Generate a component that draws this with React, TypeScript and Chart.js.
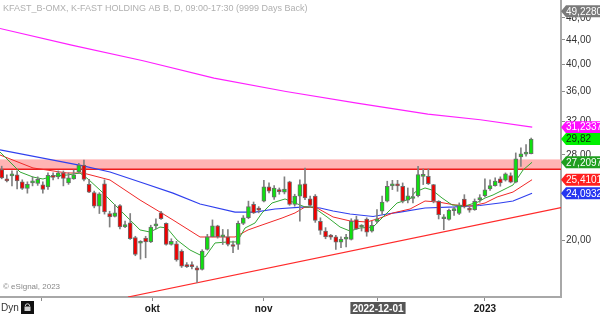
import React, { useEffect, useRef } from 'react';
import { Chart, registerables } from 'chart.js';

Chart.register(...registerables);

const FONT = '"Liberation Sans", Arial, sans-serif';

const TITLE = 'KFAST_B-OMX, K-FAST HOLDING AB B, D, 09:00-17:30 (9999 Days Back)';
const COPYRIGHT = '\u00A9 eSignal, 2023';

// daily candles, index 0 = first visible bar
const OPEN = [26.45, 25.5, 25.8, 25.9, 25.2, 24.55, 25.1, 25.05, 24.9, 24.7,
  25.8, 25.7, 26.1, 25.1, 25.5, 26.2, 26.9, 24.95, 24.15, 22.9,
  25.0, 22.25, 22.0, 22.95, 21.1, 21.45, 20.25, 19.8, 20.2, 19.9,
  21.2, 22.3, 21.4, 19.7, 19.75, 19.2, 18.2, 18.2, 17.98, 17.86,
  19.32, 20.3, 21.2, 20.3, 20.3, 19.6, 19.7, 21.4, 21.88, 23.07,
  22.6, 23.36, 24.7, 23.73, 24.3, 24.19, 25.2, 23.07, 23.82, 24.99,
  23.57, 23.82, 21.58, 20.77, 20.3, 20.3, 19.88, 20.12, 20.1, 21.72,
  21.1, 21.78, 20.77, 21.58, 22.46, 23.36, 24.8, 24.83, 24.76, 23.44,
  23.6, 23.86, 25.75, 25.75, 24.93, 23.35, 21.8, 21.73, 22.5, 22.25,
  23.56, 22.6, 22.59, 23.5, 23.86, 24.5, 24.83, 25.5, 25.37, 25.82,
  25.17, 27.8, 28.1, 28.16];
const HIGH = [26.8, 25.9, 26.3, 26.3, 25.4, 25.2, 25.7, 25.7, 25.2, 26.1,
  26.1, 26.3, 26.3, 26.1, 26.4, 27.1, 27.45, 25.45, 24.3, 24.15,
  25.4, 22.45, 23.05, 23.05, 21.6, 22.25, 20.35, 20.0, 20.35, 21.25,
  21.8, 22.45, 21.45, 20.15, 19.95, 19.3, 18.35, 18.4, 18.1, 19.3,
  20.5, 21.7, 21.25, 20.9, 20.9, 19.96, 21.6, 22.07, 23.36, 23.28,
  22.86, 25.35, 25.09, 24.83, 24.6, 25.7, 25.26, 24.0, 25.4, 26.6,
  23.82, 23.97, 21.88, 21.05, 20.5, 20.42, 20.3, 20.5, 21.8, 22.02,
  21.3, 21.88, 21.58, 22.6, 23.82, 25.26, 25.35, 25.35, 25.09, 24.6,
  24.6, 26.78, 26.5, 26.5, 24.95, 23.4, 22.16, 22.65, 22.83, 23.2,
  23.96, 22.83, 23.56, 23.96, 25.5, 25.4, 25.6, 25.7, 26.1, 26.1,
  28.23, 28.8, 29.17, 29.93];
const LOW = [25.5, 25.2, 24.8, 24.5, 24.45, 24.1, 24.8, 24.85, 24.1, 24.45,
  25.4, 25.5, 24.8, 24.95, 25.45, 26.1, 25.3, 24.15, 22.75, 22.25,
  22.2, 21.1, 21.95, 20.95, 21.05, 20.1, 18.85, 18.6, 18.7, 19.85,
  20.95, 21.75, 19.65, 19.65, 18.45, 18.0, 18.0, 17.9, 16.95, 17.82,
  19.27, 20.3, 20.2, 19.7, 19.6, 19.07, 19.32, 21.3, 21.8, 22.25,
  22.31, 23.28, 24.12, 23.51, 24.0, 24.03, 22.98, 22.9, 21.6, 23.5,
  22.77, 21.49, 20.5, 20.15, 20.1, 19.32, 19.45, 19.52, 20.05, 20.9,
  20.77, 20.35, 20.68, 21.44, 22.17, 23.28, 24.44, 24.28, 23.2, 23.2,
  23.2, 23.74, 24.93, 24.93, 23.2, 21.78, 20.88, 21.67, 22.08, 22.16,
  22.74, 22.36, 22.53, 23.26, 23.74, 24.37, 24.77, 24.77, 25.27, 25.1,
  25.1, 26.78, 27.88, 28.12];
const CLOSE = [25.6, 25.3, 25.82, 25.3, 24.55, 24.95, 25.12, 25.45, 24.45, 25.85,
  25.65, 26.1, 25.55, 25.6, 25.9, 26.9, 25.45, 24.2, 22.9, 24.05,
  22.4, 21.95, 22.3, 21.1, 21.3, 20.15, 18.95, 19.82, 19.9, 21.1,
  21.35, 21.8, 19.7, 19.95, 18.55, 18.1, 18.05, 18.05, 17.82, 19.2,
  20.3, 21.2, 20.3, 20.35, 19.7, 19.55, 21.4, 21.88, 22.86, 22.31,
  22.55, 24.7, 24.28, 24.6, 24.25, 24.5, 23.07, 23.82, 24.93, 23.66,
  22.98, 21.66, 20.82, 20.3, 20.28, 19.88, 20.1, 20.15, 21.58, 20.95,
  21.12, 20.68, 21.25, 21.8, 23.28, 24.76, 24.83, 24.8, 23.36, 23.86,
  23.65, 25.92, 25.78, 25.03, 23.35, 22.16, 21.85, 22.53, 22.55, 22.95,
  22.83, 22.55, 23.35, 23.55, 24.43, 24.83, 25.27, 25.1, 26.0, 25.17,
  27.58, 28.12, 28.16, 29.82];

// moving averages (bar index, price)
const MAGENTA_X = [-0.33, 13.6, 27.5, 41.3, 55.3, 69.1, 82.9, 93.1, 103.2];
const MAGENTA_Y = [46.02, 43.12, 40.55, 37.86, 35.93, 34.33, 32.88, 32.16, 31.23];
const BLUE_X = [-0.33, 15.82, 21.07, 27.49, 33.33, 38.58, 45.39, 49.28, 53.17, 59.01, 61.93,
  64.46, 67.76, 72.24, 74.96, 77.49, 82.35, 88.19, 93.03, 96.91, 99.47, 103.17];
const BLUE_Y = [28.56, 26.82, 26.19, 25.08, 24.1, 23.1, 22.38, 22.38, 22.65, 22.83, 22.74,
  22.47, 22.21, 21.99, 22.21, 22.38, 22.74, 22.83, 22.96, 23.19, 23.37, 24.09];
const RED_X = [-0.33, 6.09, 12.7, 15.82, 21.07, 26.91, 30.8, 33.33, 38.58, 41.5, 45.39, 47.92,
  50.64, 54.53, 57.06, 59.01, 61.34, 64.46, 67.76, 71.07, 73.6, 76.13, 79.44, 82.35, 84.88,
  88.19, 91.5, 94.03, 96.36, 99.47, 103.17];
const RED_Y = [28.0, 26.61, 26.09, 26.09, 25.38, 23.46, 22.38, 21.69, 20.29, 20.29, 20.29, 20.86,
  21.27, 21.86, 22.3, 22.83, 22.74, 21.95, 21.61, 21.52, 21.86, 22.3, 22.65, 23.37, 23.28,
  23.01, 22.92, 23.19, 23.74, 24.21, 25.41];
const GREEN_X = [-0.33, 3.56, 6.09, 8.03, 9.98, 12.7, 15.23, 16.79, 19.12, 21.65,
  24.38, 26.91, 28.85, 30.8, 32.16, 34.11, 36.63, 38.58, 39.55, 41.5,
  44.03, 45.78, 47.33, 49.28, 50.64, 52.59, 55.12, 57.06, 59.01, 60.56,
  63.29, 65.82, 67.76, 69.71, 72.24, 74.18, 76.91, 79.44, 80.41, 82.35,
  83.72, 85.66, 87.61, 90.14, 92.67, 94.03, 95.58, 98.31, 99.47, 101.42, 103.17];
const GREEN_Y = [28.33, 26.19, 25.68, 25.48, 25.78, 25.88, 26.09, 25.48, 24.4, 23.19,
  21.95, 20.86, 20.69, 21.1, 21.02, 20.05, 19.28, 18.91, 18.76, 19.82,
  19.9, 19.9, 21.02, 21.44, 22.3, 23.19, 23.56, 23.19, 22.83, 22.83,
  21.95, 21.1, 20.77, 21.02, 21.1, 21.95, 23.19, 23.56, 24.21, 24.6,
  24.4, 23.65, 23.01, 22.92, 23.28, 23.65, 23.93, 24.6, 24.89, 26.4, 27.21];

// support trend line and resistance band
const TREND_X = [24.57, 108.8];
const TREND_Y = [16.03, 22.78];
const BAND_TOP = 27.45;
const BAND_BOTTOM = 26.47;

// axes
const X_MIN = -0.33;
const X_MAX = 108.8;
const Y_MIN = 16.03;
const Y_MAX = 51.47;
const X_TICK_POS = [7.84, 29.3, 50.95, 73.2, 94];
const X_TICK_LABELS = ['', 'okt', 'nov', '2022-12-01', '2023'];
const Y_TICKS = [20, 28, 32, 36, 40, 44, 48];

// price tags on the right axis
const TAG_VALUES = [49.228, 31.2337, 29.82, 27.2097, 25.4101, 24.0932];
const TAG_TEXTS = ['49,2280', '31,2337', '29,82', '27,2097', '25,4101', '24,0932'];
const TAG_BG = ['#7a7a7a', '#ff10ff', '#00f000', '#1f9f1f', '#ff2020', '#2636f0'];
const TAG_FG = ['#ffffff', '#ffffff', '#0a250a', '#ffffff', '#ffffff', '#ffffff'];

const pts = (xs: number[], ys: number[]) => xs.map((x, i) => ({ x, y: ys[i] }));

const decorPlugin = {
  id: 'esignalDecor',
  afterDraw(chart: any) {
    const { ctx, chartArea } = chart;
    const ys = chart.scales.y;
    ctx.save();
    ctx.textAlign = 'left';
    ctx.textBaseline = 'middle';
    ctx.font = `9px ${FONT}`;
    ctx.fillStyle = '#b0b0b0';
    ctx.fillText(TITLE, 3, 9);

    ctx.font = `8px ${FONT}`;
    ctx.fillStyle = '#888888';
    ctx.fillText(COPYRIGHT, 3, 287);

    ctx.font = `10px ${FONT}`;
    ctx.fillStyle = '#333333';
    ctx.fillText('Dyn', 1, 308);
    ctx.fillStyle = '#111111';
    ctx.fillRect(21, 301, 13, 13);
    ctx.strokeStyle = '#d0d0d0';
    ctx.lineWidth = 1;
    ctx.beginPath();
    ctx.arc(27.5, 306, 2.2, Math.PI, 0);
    ctx.stroke();
    ctx.fillStyle = '#d0d0d0';
    ctx.fillRect(24.5, 306.5, 6, 4.5);

    const right = chartArea.right;
    ctx.font = `10px ${FONT}`;
    TAG_VALUES.forEach((v, i) => {
      const py = ys.getPixelForValue(v);
      ctx.fillStyle = TAG_BG[i];
      ctx.beginPath();
      ctx.moveTo(right, py);
      ctx.lineTo(right + 5, py - 6);
      ctx.lineTo(600, py - 6);
      ctx.lineTo(600, py + 6);
      ctx.lineTo(right + 5, py + 6);
      ctx.closePath();
      ctx.fill();
      ctx.fillStyle = TAG_FG[i];
      ctx.fillText(TAG_TEXTS[i], right + 5, py + 0.5);
    });
    ctx.restore();
  },
};

export default function App() {
  const ref = useRef<HTMLCanvasElement | null>(null);

  useEffect(() => {
    if (!ref.current) return;
    const idx = OPEN.map((_, i) => i);
    const chart = new Chart(ref.current, {
      type: 'bar',
      data: {
        datasets: [
          {
            type: 'line',
            data: [{ x: X_MIN - 1, y: BAND_TOP }, { x: X_MAX + 1, y: BAND_TOP }],
            borderColor: '#ff9c9c',
            borderWidth: 1,
            pointRadius: 0,
            fill: false,
            order: 10,
          } as any,
          {
            type: 'line',
            data: [{ x: X_MIN - 1, y: BAND_BOTTOM }, { x: X_MAX + 1, y: BAND_BOTTOM }],
            borderColor: '#ee1c1c',
            borderWidth: 1.5,
            backgroundColor: '#ffb4b4',
            pointRadius: 0,
            fill: '-1',
            order: 9,
          } as any,
          {
            type: 'line',
            data: pts(TREND_X, TREND_Y),
            borderColor: '#ff2a2a',
            borderWidth: 1.2,
            pointRadius: 0,
            fill: false,
            order: 8,
          } as any,
          {
            type: 'line',
            data: pts(MAGENTA_X, MAGENTA_Y),
            borderColor: '#ff20ff',
            borderWidth: 1.2,
            pointRadius: 0,
            fill: false,
            order: 7,
          } as any,
          {
            type: 'line',
            data: pts(BLUE_X, BLUE_Y),
            borderColor: '#3040ee',
            borderWidth: 1.2,
            pointRadius: 0,
            fill: false,
            order: 6,
          } as any,
          {
            type: 'line',
            data: pts(RED_X, RED_Y),
            borderColor: '#f02828',
            borderWidth: 1,
            pointRadius: 0,
            fill: false,
            order: 5,
          } as any,
          {
            type: 'line',
            data: pts(GREEN_X, GREEN_Y),
            borderColor: '#34a834',
            borderWidth: 1,
            pointRadius: 0,
            fill: false,
            order: 4,
          } as any,
          {
            type: 'bar',
            data: idx.map((i) => ({ x: i, y: [LOW[i], HIGH[i]] })),
            backgroundColor: '#808080',
            barThickness: 1,
            grouped: false,
            order: 2,
          } as any,
          {
            type: 'bar',
            data: idx.map((i) => ({ x: i, y: [OPEN[i], CLOSE[i]] })),
            backgroundColor: idx.map((i) => (CLOSE[i] >= OPEN[i] ? '#10e010' : '#f00000')),
            borderColor: '#6c6c6c',
            borderWidth: 1,
            borderSkipped: false,
            barThickness: 4,
            minBarLength: 2,
            grouped: false,
            order: 1,
          } as any,
        ],
      },
      options: {
        animation: false,
        responsive: false,
        devicePixelRatio: 1,
        events: [],
        layout: { padding: 0, autoPadding: false } as any,
        plugins: {
          legend: { display: false },
          tooltip: { enabled: false },
          title: { display: false },
        },
        scales: {
          x: {
            type: 'linear',
            min: X_MIN,
            max: X_MAX,
            bounds: 'data',
            offset: false,
            grid: { offset: false, drawOnChartArea: false, drawTicks: true, tickLength: 4, color: '#8c8c8c' },
            border: { display: true, color: '#a8a8a8', width: 2 },
            ticks: {
              autoSkip: false,
              maxRotation: 0,
              minRotation: 0,
              padding: 2,
              font: { family: FONT, size: 10, weight: 'bold' },
              color: (c: any) => (c.index === 3 ? '#ffffff' : '#1a1a1a'),
              showLabelBackdrop: (c: any) => c.index === 3,
              backdropColor: '#555555',
              backdropPadding: { top: 1, bottom: 1, left: 2, right: 2 },
              callback: (_v: any, i: number) => X_TICK_LABELS[i],
            } as any,
            afterBuildTicks: (s: any) => {
              s.ticks = X_TICK_POS.map((v) => ({ value: v }));
            },
            afterFit: (s: any) => {
              s.height = 17;
              s.paddingLeft = 0;
              s.paddingRight = 0;
            },
          } as any,
          y: {
            type: 'logarithmic',
            position: 'right',
            min: Y_MIN,
            max: Y_MAX,
            bounds: 'data',
            grid: { offset: false, drawOnChartArea: false, drawTicks: true, tickLength: 4, color: '#8c8c8c' },
            border: { display: true, color: '#a8a8a8', width: 2 },
            ticks: {
              autoSkip: false,
              padding: 1,
              font: { family: FONT, size: 10 },
              color: '#333333',
              callback: (v: any) => Number(v).toFixed(2).replace('.', ','),
            },
            afterBuildTicks: (s: any) => {
              s.ticks = Y_TICKS.map((v) => ({ value: v }));
            },
            afterFit: (s: any) => {
              s.width = 39;
              s.paddingTop = 0;
              s.paddingBottom = 0;
            },
          } as any,
        },
      },
      plugins: [decorPlugin],
    } as any);
    return () => chart.destroy();
  }, []);

  return (
    <div style={{ position: 'absolute', left: 0, top: 0, width: 600, height: 314, background: '#ffffff' }}>
      <canvas ref={ref} width={600} height={314} style={{ display: 'block', width: 600, height: 314 }} />
    </div>
  );
}
